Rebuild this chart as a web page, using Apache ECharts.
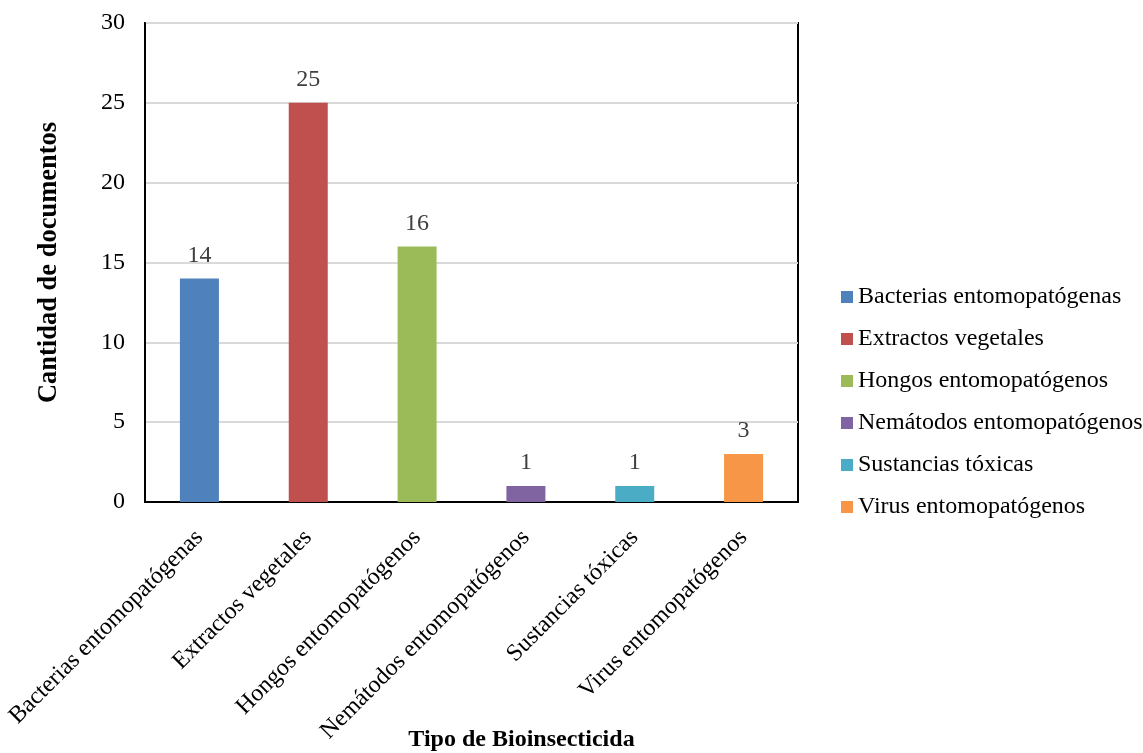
<!DOCTYPE html>
<html>
<head>
<meta charset="utf-8">
<script src="https://cdn.jsdelivr.net/npm/echarts@6/dist/echarts.min.js"></script>
<style>html,body{margin:0;padding:0;background:#fff}#c{width:1143px;height:753px}</style>
</head>
<body>
<div id="c"></div>
<script>
const categories = ["Bacterias entomopatógenas","Extractos vegetales","Hongos entomopatógenos","Nemátodos entomopatógenos","Sustancias tóxicas","Virus entomopatógenos"];
const values = [14, 25, 16, 1, 1, 3];
const colors = ["#4F81BD","#C0504D","#9BBB59","#8064A2","#4BACC6","#F79646"];
const yTicks = [0, 5, 10, 15, 20, 25, 30];

const FONT = "'Liberation Serif','Times New Roman',serif";
const chart = echarts.init(document.getElementById('c'), null, {renderer:'canvas'});
const series = categories.map((name, i) => ({
  name: name,
  type: 'bar',
  stack: 'all',
  barWidth: 39,
  itemStyle: {color: colors[i]},
  label: {show: true, position: 'top', distance: 11, color: '#404040', fontFamily: FONT, fontSize: 24},
  data: values.map((v, j) => j === i ? v : '-')
}));
chart.setOption({
  animation: false,
  textStyle: {fontFamily: FONT},
  legend: {
    orient: 'vertical', left: 841, top: 285, padding: 0,
    itemWidth: 12, itemHeight: 12, itemGap: 18,
    icon: 'rect',
    textStyle: {fontFamily: FONT, fontSize: 24, color: '#000'},
    data: categories
  },
  grid: {left: 145, right: 345, top: 23, bottom: 251, show: true, borderColor: '#000', borderWidth: 2, containLabel: false, outerBoundsMode: 'none'},
  xAxis: {
    type: 'category', data: categories,
    axisLine: {show: true, lineStyle: {color: '#000', width: 2}},
    axisTick: {show: false},
    axisLabel: {rotate: 45, interval: 0, margin: 32, color: '#000', fontFamily: FONT, fontSize: 24},
    name: 'Tipo de Bioinsecticida', nameLocation: 'middle', nameGap: 226, nameMoveOverlap: false,
    nameTextStyle: {fontFamily: FONT, fontSize: 24, fontWeight: 'bold', color: '#000', padding: [0,0,0,100]}
  },
  yAxis: {
    type: 'value', min: yTicks[0], max: yTicks[yTicks.length-1], interval: 5,
    axisLine: {show: true, lineStyle: {color: '#000', width: 2}},
    axisTick: {show: false},
    splitLine: {lineStyle: {color: '#D9D9D9', width: 2}},
    axisLabel: {color: '#000', fontFamily: FONT, fontSize: 24, margin: 20},
    name: 'Cantidad de documentos', nameLocation: 'middle', nameGap: 82, nameRotate: 90, nameMoveOverlap: false,
    nameTextStyle: {fontFamily: FONT, fontSize: 26.5, fontWeight: 'bold', color: '#000'}
  },
  series: series
});
</script>
</body>
</html>
